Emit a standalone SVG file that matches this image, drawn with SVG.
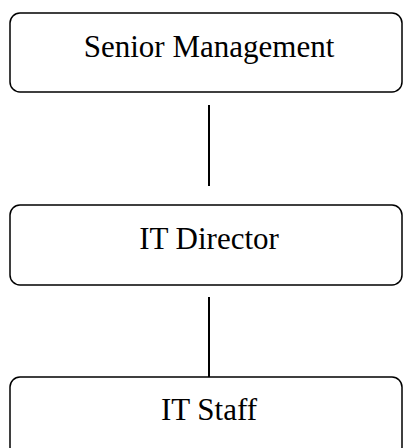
<svg xmlns="http://www.w3.org/2000/svg" width="404" height="448" viewBox="0 0 404 448">
<style>
.box{fill:#fff;stroke:#000;stroke-width:1.5}
.lbl{font-family:"Liberation Serif","Times New Roman",serif;font-size:31px;fill:#000;text-anchor:middle}
.conn{stroke:#000;stroke-width:2}
</style>
<rect width="404" height="448" fill="#fff"/>
<g id="senior-management">
<rect class="box" x="10" y="13" width="392" height="79" rx="10"/>
<text class="lbl" x="209" y="57">Senior Management</text>
</g>
<g id="it-director">
<rect class="box" x="10" y="205" width="392" height="80" rx="10"/>
<text class="lbl" x="209" y="249">IT Director</text>
</g>
<g id="it-staff">
<rect class="box" x="10" y="377" width="392" height="80" rx="10"/>
<text class="lbl" x="209" y="420">IT Staff</text>
</g>
<g id="connectors">
<line class="conn" x1="209" y1="105" x2="209" y2="186"/>
<line class="conn" x1="209" y1="297" x2="209" y2="377"/>
</g>
</svg>
